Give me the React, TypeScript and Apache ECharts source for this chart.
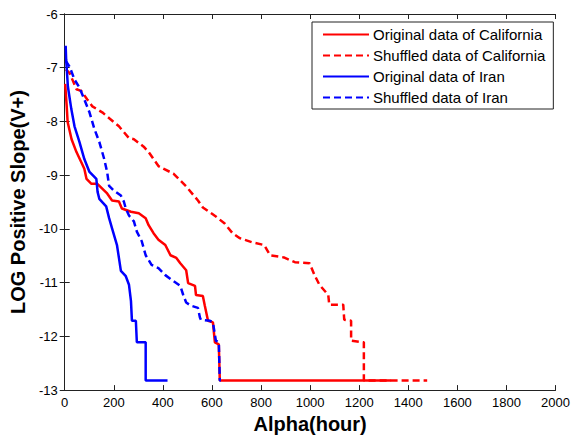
import React, { useEffect, useRef } from "react";
import * as echarts from "echarts";

const seriesNames = [
  "Original data of California",
  "Shuffled data of California",
  "Original data of Iran",
  "Shuffled data of Iran",
];

const xTicks = { min: 0, max: 2000, interval: 200 };
const yTicks = { min: -13, max: -6, interval: 1 };

const caOrigX = [2, 8, 12, 28, 48, 72, 80, 89, 109, 133, 153, 173, 193, 221, 233, 270, 302, 330, 342, 362, 382, 410, 431, 455, 471, 495, 503, 531, 535, 563, 571, 584, 604, 612, 628, 632, 1330];
const caOrigY = [-7.3, -7.7, -8.01, -8.33, -8.57, -8.8, -8.88, -9.07, -9.16, -9.16, -9.25, -9.34, -9.47, -9.49, -9.62, -9.68, -9.71, -9.8, -9.93, -10.08, -10.2, -10.3, -10.49, -10.54, -10.64, -10.77, -11.01, -11.06, -11.23, -11.25, -11.43, -11.71, -11.74, -12.11, -12.15, -12.82, -12.82];

const caShufX = [5, 20, 48, 67, 92, 113, 153, 221, 262, 282, 322, 342, 382, 402, 443, 495, 543, 563, 616, 652, 684, 712, 765, 813, 837, 893, 938, 998, 1018, 1038, 1074, 1078, 1135, 1139, 1167, 1167, 1219, 1219, 1477];
const caShufY = [-7.03, -7.1, -7.4, -7.43, -7.59, -7.72, -7.83, -8.09, -8.31, -8.33, -8.47, -8.57, -8.83, -8.88, -8.97, -9.21, -9.47, -9.6, -9.77, -9.9, -10.08, -10.17, -10.25, -10.3, -10.49, -10.53, -10.62, -10.64, -10.86, -11.04, -11.23, -11.41, -11.41, -11.69, -11.71, -12.08, -12.11, -12.82, -12.82];

const irOrigX = [4, 6, 13, 27, 40, 60, 80, 101, 129, 134, 141, 169, 181, 193, 213, 221, 229, 249, 262, 270, 274, 290, 294, 330, 330, 419];
const irOrigY = [-6.59, -6.85, -7.35, -7.77, -8.09, -8.38, -8.7, -8.94, -9.07, -9.31, -9.44, -9.58, -9.8, -9.99, -10.3, -10.54, -10.78, -10.88, -11.04, -11.34, -11.71, -11.71, -12.11, -12.11, -12.82, -12.82];

const irShufX = [4, 20, 40, 60, 80, 101, 121, 141, 161, 173, 181, 201, 229, 241, 249, 262, 282, 294, 314, 330, 354, 382, 410, 443, 471, 483, 495, 515, 543, 551, 555, 592, 604, 616, 628, 632, 636];
const irShufY = [-6.87, -6.98, -7.22, -7.37, -7.59, -7.83, -8.14, -8.38, -8.7, -8.94, -9.2, -9.29, -9.38, -9.49, -9.62, -9.75, -9.86, -10.05, -10.23, -10.49, -10.67, -10.73, -10.86, -10.97, -11.06, -11.23, -11.37, -11.43, -11.47, -11.65, -11.69, -11.71, -11.74, -12.08, -12.11, -12.82, -12.82];

const zip = (xs: number[], ys: number[]) => xs.map((x, i) => [x, ys[i]]);

const RED = "#ff0000";
const BLUE = "#0000ff";
const AXIS = "#222";

export default function App() {
  const ref = useRef<HTMLDivElement>(null);
  useEffect(() => {
    if (!ref.current) return;
    const chart = echarts.init(ref.current, null, { renderer: "svg" });
    const font = "'Liberation Sans', Arial, sans-serif";
    const axisCommon = {
      type: "value" as const,
      axisLine: { show: true, lineStyle: { color: AXIS, width: 1 } },
      axisTick: { show: true, inside: true, length: 5, lineStyle: { color: AXIS } },
      splitLine: { show: false },
    };
    const mk = (name: string, xs: number[], ys: number[], color: string, dashed: boolean) => ({
      name,
      type: "line",
      data: zip(xs, ys),
      symbol: "none",
      showSymbol: false,
      lineStyle: { color, width: 2.5, type: dashed ? [7, 4] : "solid" },
      itemStyle: { color },
      xAxisIndex: 0,
      yAxisIndex: 0,
    });
    chart.setOption({
      animation: false,
      backgroundColor: "#fff",
      textStyle: { fontFamily: font },
      grid: { left: 60, right: 16, top: 14, bottom: 46, containLabel: false },
      legend: {
        orient: "vertical",
        left: 312,
        top: 22,
        data: seriesNames,
        itemWidth: 46,
        itemHeight: 14,
        itemGap: 6,
        padding: [5, 8, 4, 10],
        borderColor: "#222",
        borderWidth: 1,
        backgroundColor: "#fff",
        borderRadius: 0,
        align: "left",
        itemStyle: { opacity: 0 },
        textStyle: { fontSize: 15, color: "#000", fontFamily: font, padding: [0, 0, 0, -1] },
      },
      xAxis: [
        {
          ...axisCommon,
          position: "bottom",
          min: xTicks.min,
          max: xTicks.max,
          interval: xTicks.interval,
          axisLabel: { show: true, fontSize: 13, color: "#000", margin: 6, fontFamily: font, formatter: (v: number) => String(v) },
          name: "Alpha(hour)",
          nameLocation: "middle",
          nameGap: 22,
          nameTextStyle: { fontSize: 20, fontWeight: "bold", color: "#000", fontFamily: font },
        },
        {
          ...axisCommon,
          position: "top",
          min: xTicks.min,
          max: xTicks.max,
          interval: xTicks.interval,
          axisLabel: { show: false },
        },
      ],
      yAxis: [
        {
          ...axisCommon,
          position: "left",
          min: yTicks.min,
          max: yTicks.max,
          interval: yTicks.interval,
          axisLabel: { show: true, fontSize: 13, color: "#000", margin: 7, fontFamily: font, formatter: (v: number) => String(v) },
          name: "LOG Positive Slope(V+)",
          nameLocation: "middle",
          nameGap: 32,
          nameRotate: 90,
          nameTextStyle: { fontSize: 20, fontWeight: "bold", color: "#000", fontFamily: font },
        },
        {
          ...axisCommon,
          position: "right",
          min: yTicks.min,
          max: yTicks.max,
          interval: yTicks.interval,
          axisLabel: { show: false },
        },
      ],
      series: [
        mk(seriesNames[0], caOrigX, caOrigY, RED, false),
        mk(seriesNames[1], caShufX, caShufY, RED, true),
        mk(seriesNames[2], irOrigX, irOrigY, BLUE, false),
        mk(seriesNames[3], irShufX, irShufY, BLUE, true),
      ],
    });
    return () => chart.dispose();
  }, []);
  return <div ref={ref} style={{ position: "absolute", left: 0, top: 0, width: 573, height: 439 }} />;
}
